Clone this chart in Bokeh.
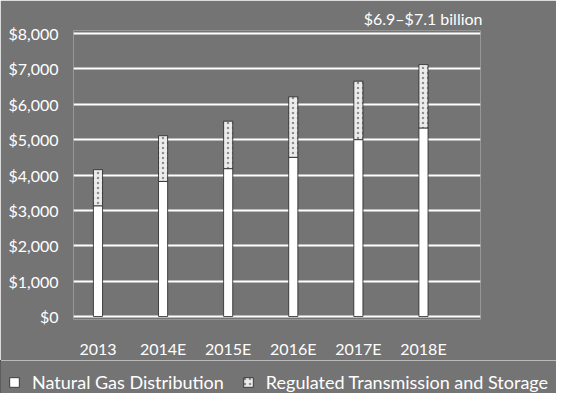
from bokeh.plotting import figure
from bokeh.layouts import column
from bokeh.models import (Range1d, FixedTicker, NumeralTickFormatter, Legend, LegendItem,
                          ColumnDataSource)
from bokeh.embed import file_html
from bokeh.resources import INLINE

years = ["2013", "2014E", "2015E", "2016E", "2017E", "2018E"]
distribution = [3130, 3820, 4180, 4500, 5000, 5330]
transmission = [1020, 1290, 1340, 1710, 1650, 1790]
y_ticks = [0, 1000, 2000, 3000, 4000, 5000, 6000, 7000, 8000]
title_text = "$6.9\u2013$7.1 billion"
series_names = ["Natural Gas Distribution", "Regulated Transmission and Storage"]

FONT = "Lato"
BG = "#747474"
fills = ["#ffffff", "#ececec"]
hatches = [" ", "dot"]
x_idx = list(range(len(years)))
source = ColumnDataSource(dict(x=x_idx, dist=distribution, trans=transmission))

p = figure(width=556, height=360, output_backend="svg", toolbar_location=None,
           x_range=Range1d(-0.376, 5.876), y_range=Range1d(-84, 8084),
           min_border_left=73, min_border_right=76, min_border_top=30,
           min_border_bottom=37)
p.frame_align = False
p.background_fill_color = BG
p.border_fill_color = BG
p.outline_line_color = None

p.title.text = title_text
p.title.align = "right"
p.title.text_color = "white"
p.title.text_font = FONT
p.title.text_font_size = "16px"
p.title.text_font_style = "normal"
p.title.standoff = 5
p.title.offset = -2

r = p.vbar_stack(["dist", "trans"], x="x", width=0.14, source=source,
                 fill_color=fills, line_color="#222222", line_width=0.8,
                 hatch_pattern=hatches, hatch_color="#666666", hatch_scale=5,
                 hatch_alpha=0.7)

p.xaxis.ticker = FixedTicker(ticks=x_idx)
p.xaxis.major_label_overrides = {i: y for i, y in enumerate(years)}
p.yaxis.ticker = FixedTicker(ticks=y_ticks)
p.yaxis.formatter = NumeralTickFormatter(format="$0,0")
for ax in (p.xaxis[0], p.yaxis[0]):
    ax.axis_line_color = None
    ax.major_tick_line_color = None
    ax.minor_tick_line_color = None
    ax.major_label_text_color = "white"
    ax.major_label_text_font = FONT
    ax.major_label_text_font_size = "16px"
p.yaxis.major_label_standoff = 9
p.xaxis.major_label_standoff = 13

p.xgrid.grid_line_color = None
p.ygrid.ticker = FixedTicker(ticks=y_ticks)
p.ygrid.grid_line_color = "white"
p.ygrid.grid_line_width = 2

# legend strip (its bars stay outside its visible range; only the legend shows)
q = figure(width=556, height=33, output_backend="svg", toolbar_location=None,
           x_range=Range1d(100, 101), y_range=Range1d(0, 1),
           min_border_left=0, min_border_right=0, min_border_top=0, min_border_bottom=0)
q.frame_align = False
q.axis.visible = False
q.grid.visible = False
q.background_fill_color = BG
q.border_fill_color = BG
q.outline_line_color = None
rq = q.vbar_stack(["dist", "trans"], x="x", width=0.14, source=source,
                  fill_color=fills, line_color="#222222", line_width=0.8,
                  hatch_pattern=hatches, hatch_color="#666666", hatch_scale=5,
                  hatch_alpha=0.7)
items = [LegendItem(label=n, renderers=[rr]) for n, rr in zip(series_names, rq)]

legend = Legend(items=items, location=(8, 0), orientation="horizontal",
                glyph_width=12, glyph_height=12, label_text_color="white",
                label_text_font=FONT, label_text_font_size="18px",
                background_fill_alpha=0, border_line_color=None,
                padding=0, margin=0, spacing=18, label_standoff=12)
q.add_layout(legend, "center")

layout = column(p, q, spacing=0)
open("out.html", "w").write(file_html(layout, INLINE))
